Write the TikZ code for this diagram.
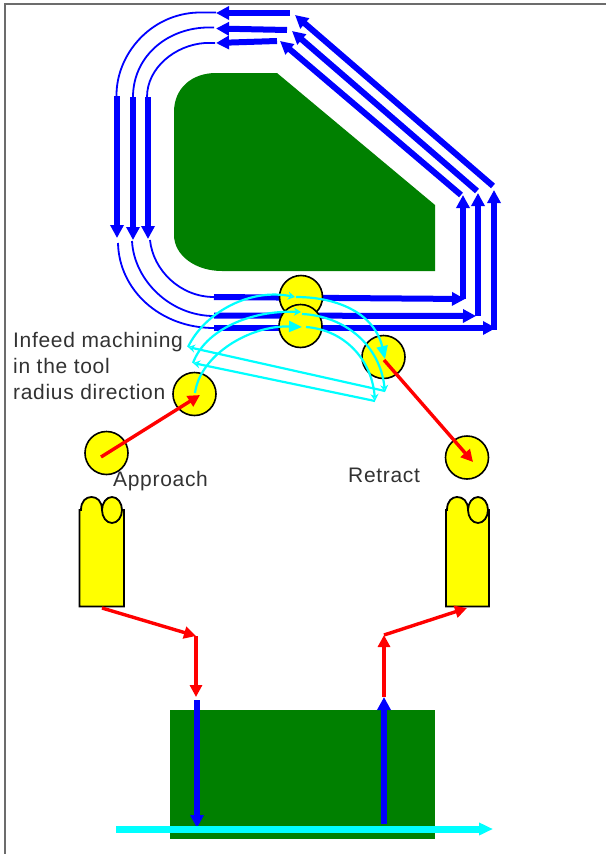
\documentclass[tikz,border=0pt]{standalone}
\usepackage{fontspec}
\setmainfont{Liberation Sans}[LetterSpace=3.3]
\usetikzlibrary{arrows.meta}
\definecolor{partgreen}{RGB}{0,128,0}
\definecolor{labelgray}{RGB}{50,50,50}
\definecolor{pureblue}{RGB}{0,0,255}
\definecolor{purered}{RGB}{255,0,0}
\definecolor{purecyan}{RGB}{0,255,255}
\definecolor{pureyellow}{RGB}{255,255,0}
\tikzset{
  x=1pt,y=-1pt,
  part/.style={fill=partgreen,draw=none},
  feed/.style={pureblue,line width=6pt,-{Triangle[length=13pt,width=13pt]}},
  thin feed/.style={pureblue,line width=1.8pt},
  rapid/.style={purered,line width=3.4pt,-{Triangle[length=12pt,width=12pt]}},
  cut/.style={purecyan,line width=2.2pt,-{Stealth[length=7pt,width=8pt,open]}},
  cut solid/.style={purecyan,line width=2.2pt,-{Triangle[length=13pt,width=11pt]}},
  tool/.style={circle,draw=black,fill=pureyellow,line width=1.6pt,minimum size=43pt,inner sep=0pt},
  toolpart/.style={draw=black,fill=pureyellow,line width=1.8pt},
  lbl/.style={text=labelgray,font=\fontsize{21}{26}\selectfont,inner sep=0pt,anchor=base west,align=left},
}
\begin{document}
\begin{tikzpicture}
\useasboundingbox (0,0) rectangle (606,854);
% frame
\draw[gray!85!black,line width=1.8pt] (5,854) -- (5,4) -- (606,4);
% workpiece, top view
\path[part] (247,73) -- (277,73) -- (435,205) -- (435,271) -- (222,271)
  .. controls (195,271) and (174,255) .. (174,235) -- (174,112)
  .. controls (174,88) and (192,73) .. (216,73) -- cycle;
% workpiece, side view
\path[part] (170,710) rectangle (435,839);
% top-left feed, thin arcs
\draw[thin feed] (216,12.5) -- (198,12.5) .. controls (150,14) and (116,55) .. (116.5,96);
\draw[thin feed] (214,27.5) -- (206,27.5) .. controls (165,29) and (133,58) .. (133,97);
\draw[thin feed] (215,43) -- (205,43) .. controls (175,45) and (147,68) .. (147,97);
% thin arcs, lower left
\draw[thin feed] (118,243) .. controls (119,290) and (160,328) .. (214,328);
\draw[thin feed] (132,241) .. controls (134,280) and (170,316) .. (214,316);
\draw[thin feed] (150,240) .. controls (153,270) and (180,297) .. (214,297);
% thick feed arrows
\draw[feed] (290,13) -- (216,13);
\draw[feed] (287,30) -- (216,28.5);
\draw[feed] (277,41) -- (216,43);
\draw[feed] (117,96) -- (117,238);
\draw[feed] (133,97) -- (133,240);
\draw[feed] (148,97) -- (148,239);
\draw[feed] (214,297) -- (465,299);
\draw[feed] (214,315.5) -- (476,316);
\draw[feed] (214,328) -- (496,328);
\draw[feed] (463,299) -- (463,195);
\draw[feed] (478,316) -- (478,193);
\draw[feed] (494,330) -- (494,190);
\draw[feed] (461,195) -- (280,41);
\draw[feed] (477,191) -- (292,31);
\draw[feed] (493,186) -- (295,15);
% tool positions
\node[tool] (c1) at (301,297) {};
\node[tool] (c2) at (300.5,326) {};
\node[tool] (c3) at (383.5,357) {};
\node[tool] (c4) at (194.5,394) {};
\node[tool] (c5) at (106.5,453) {};
\node[tool] (c6) at (467,457.5) {};
% tool side views
\path[toolpart] (79.5,606.5) -- (79.5,510) -- (81,510) .. controls (81,501) and (86,497) .. (91.5,497)
  .. controls (97,497) and (102,501) .. (102,510) -- (124,510) -- (124,606.5) -- cycle;
\path[toolpart] (112,510) ellipse [x radius=10,y radius=13];
\path[toolpart] (446,606.5) -- (446,510) -- (447,510) .. controls (447,501) and (452,497) .. (457,497)
  .. controls (463,497) and (468,501) .. (468,510) -- (489,510) -- (489,606.5) -- cycle;
\path[toolpart] (478,510) ellipse [x radius=10,y radius=13];
% cutting path
\draw[cut solid] (195,393) .. controls (200,355) and (250,325) .. (302,327);
\draw[cut] (306,327) .. controls (345,330) and (372,360) .. (375,401);
\draw[cut] (375,401) -- (193,363);
\draw[cut] (193,363) .. controls (205,330) and (250,310) .. (301,312);
\draw[cut] (302,314) .. controls (345,316) and (380,345) .. (385,392);
\draw[cut] (385,391) -- (188,347);
\draw[cut] (188,347) .. controls (205,312) and (250,288) .. (295,297);
\draw[cut solid] (296,297) .. controls (340,297) and (375,315) .. (385,359);
% rapid moves
\draw[rapid] (101,457) -- (200,395);
\draw[rapid] (384,360) -- (473,462);
\draw[rapid] (102,608) -- (196,636);
\draw[rapid] (196,636) -- (196,697);
\draw[rapid] (384,697) -- (384,635);
\draw[rapid] (384,635) -- (467,608);
% side-view feed
\draw[feed] (197,700) -- (197,828);
\draw[feed] (384,824) -- (384,697);
\draw[purecyan,line width=7pt,-{Triangle[length=14pt,width=12pt]}] (116,829) -- (493,829);
% labels
\node[lbl] (infeed) at (13,399) {Infeed machining\\in the tool\\radius direction};
\node[lbl] (approach) at (113,486) {Approach};
\node[lbl] (retract) at (348,482) {Retract};
\end{tikzpicture}
\end{document}
